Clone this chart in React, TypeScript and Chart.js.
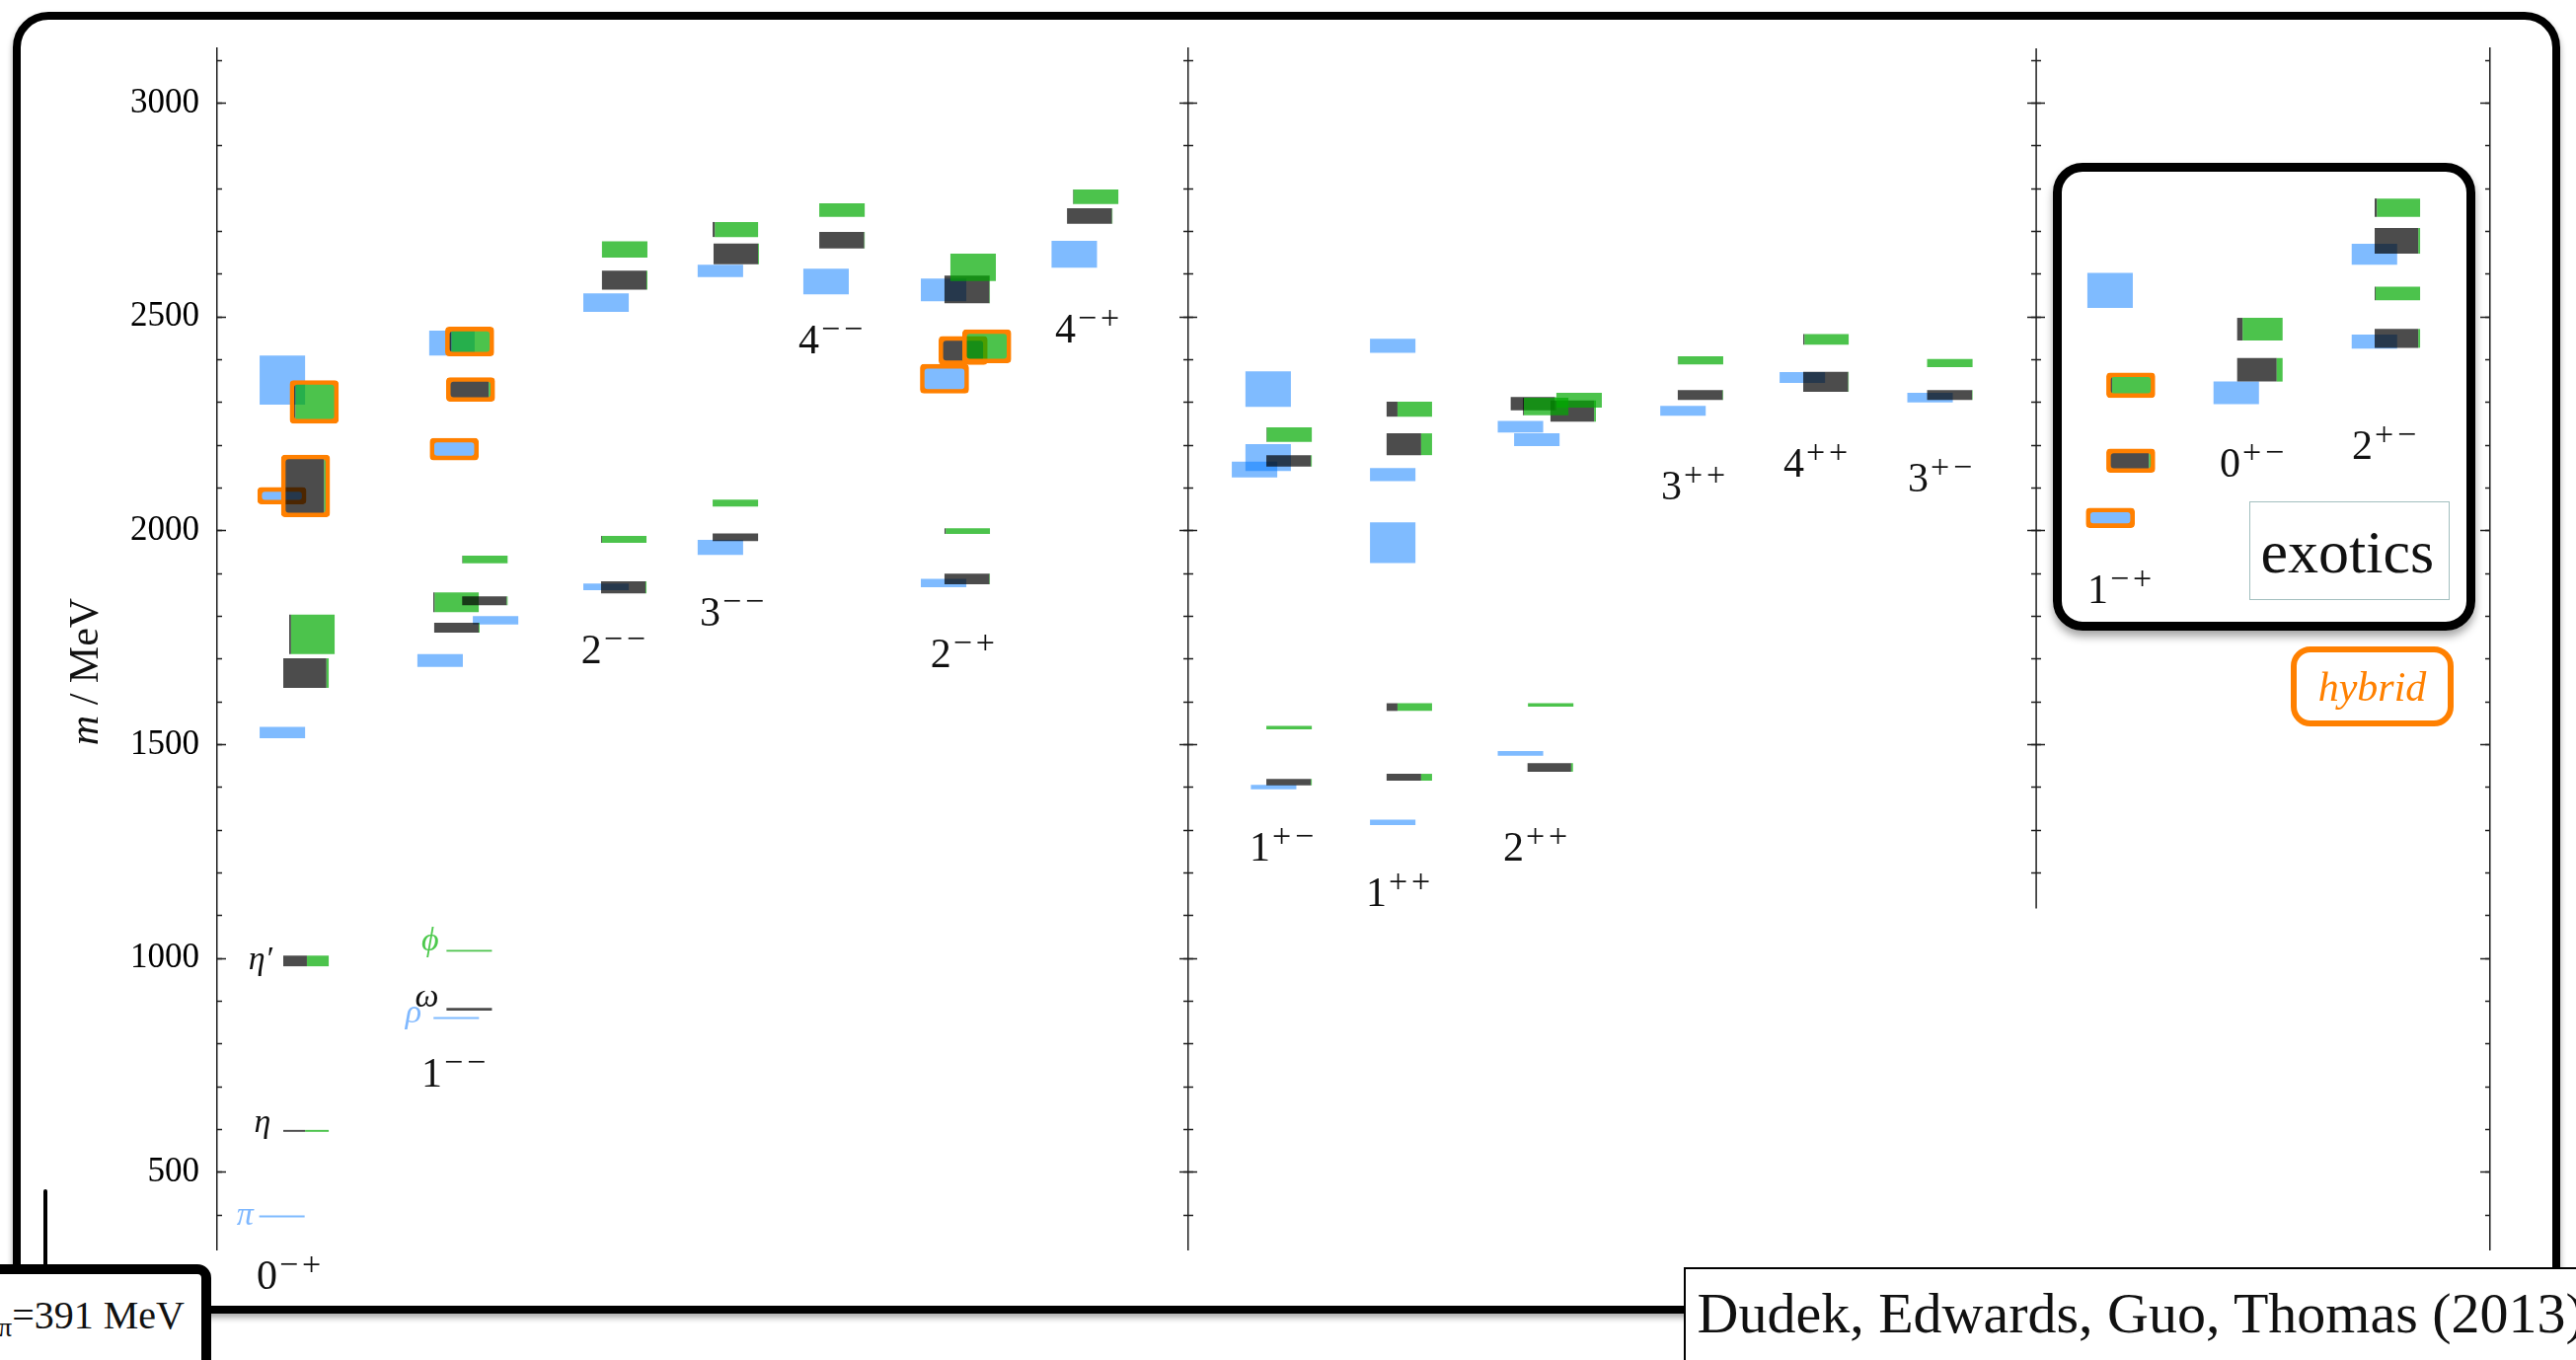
import React, { useEffect, useRef } from 'react';
import { Chart, BarController, registerables } from 'chart.js';

Chart.register(...registerables);

// ---------------- data ----------------
const Y_MIN = 320;
const Y_MAX = 3128;
const majorTicks = [500, 1000, 1500, 2000, 2500, 3000];
const minorTicks = [400, 500, 600, 700, 800, 900, 1000, 1100, 1200, 1300, 1400, 1500, 1600, 1700, 1800, 1900, 2000, 2100, 2200, 2300, 2400, 2500, 2600, 2700, 2800, 2900, 3000, 3100];

// J^PC column labels (spin, P C superscript), label anchor (x units, MeV baseline)
const jpcJ = ['0', '1', '2', '3', '4', '2', '4', '1', '1', '2', '3', '4', '3', '1', '0', '2'];
const jpcPC = ['−+', '−−', '−−', '−−', '−−', '−+', '−+', '+−', '++', '++', '++', '++', '+−', '−+', '+−', '+−'];
const jpcLabelX = [1.74, 8.99, 16.01, 21.23, 25.58, 31.38, 36.87, 45.42, 50.54, 56.58, 63.53, 68.91, 74.38, 82.28, 88.1, 93.92];
const jpcLabelM = [228, 700, 1691, 1778, 2415, 1681, 2440, 1228, 1124, 1229, 2073, 2126, 2091, 1832, 2126, 2168];

// named ground states
const particleNames = ['π', 'η', 'η′', 'ρ', 'ω', 'ϕ'];
const particleKind = ['isovector', 'isoscalar', 'isoscalar', 'isovector', 'isoscalar', 'strange'];
const particleX = [1.6, 2.36, 2.43, 8.99, 9.75, 9.75];
const particleM = [377, 594, 975, 850, 887, 1018];

// Isovector (I=1) states: x position, mass band low / high (MeV), hybrid flag
const ivX = [2.85, 2.87, 2.85, 2.87, 10.52, 9.81, 12.25, 10.43, 10.33, 17.11, 17.11, 22.14, 22.14, 26.79, 31.96, 32.0, 31.96, 37.71, 46.48, 45.64, 46.24, 46.24, 51.72, 51.72, 51.72, 51.72, 57.34, 58.06, 57.34, 64.49, 69.74, 75.36, 83.29, 83.28, 88.83, 94.91, 94.91];
const ivLo = [395, 1515, 2066, 2295, 859, 1682, 1781, 2169, 2410, 1861, 2512, 1944, 2593, 2553, 1868, 2325, 2537, 2615, 1396, 2125, 2140, 2290, 1312, 1925, 2116, 2416, 1474, 2198, 2230, 2269, 2346, 2300, 2011, 2521, 2296, 2426, 2622];
const ivHi = [399.5, 1542, 2098, 2410, 863.5, 1712, 1801, 2213, 2468, 1877, 2555, 1979, 2622, 2613, 1888, 2386, 2590, 2678, 1406, 2162, 2203, 2373, 1325, 2020, 2147, 2449, 1485, 2228, 2257, 2292, 2371, 2323, 2050, 2603, 2349, 2459, 2671];
const ivHybrid = [0, 0, 1, 0, 0, 0, 0, 1, 0, 0, 0, 0, 0, 0, 0, 1, 0, 0, 0, 0, 0, 0, 0, 0, 0, 0, 0, 0, 0, 0, 0, 0, 1, 0, 0, 0, 0];

// Isoscalar (I=0) states: x position, mass band, light-quark fraction, hybrid flag (draw order)
const isX = [3.91, 3.91, 3.91, 4.17, 3.89, 4.27, 11.09, 11.09, 10.55, 10.51, 11.78, 11.78, 11.15, 11.11, 17.89, 17.89, 17.93, 17.93, 22.8, 22.8, 22.84, 22.8, 27.49, 27.49, 33.0, 33.0, 32.82, 33.86, 33.0, 33.26, 38.39, 38.65, 47.16, 47.16, 47.16, 47.16, 52.45, 52.45, 52.45, 52.45, 58.65, 58.67, 57.91, 59.66, 58.45, 59.92, 65.26, 65.26, 70.78, 70.78, 76.23, 76.23, 84.19, 84.19, 89.87, 89.87, 95.92, 95.92, 95.92, 95.92];
const isLo = [595, 982, 1633, 1712, 2036, 2255, 878.5, 1016, 1762, 1810, 1826, 1924, 2306, 2412, 1854, 1972, 2564, 2639, 1976, 2057, 2623, 2687, 2660, 2734, 1875, 1993, 2392, 2396, 2532, 2584, 2718, 2764, 1405, 1536, 2150, 2208, 1416, 1579, 2177, 2267, 1437, 1589, 2282, 2255, 2270, 2288, 2306, 2389, 2325, 2435, 2306, 2383, 2140, 2315, 2349, 2445, 2428, 2539, 2648, 2734];
const isHi = [599.5, 1007, 1702, 1804, 2174, 2348, 885, 1020, 1785, 1856, 1847, 1942, 2355, 2473, 1882, 1988, 2608, 2677, 1994, 2073, 2672, 2722, 2699, 2766, 1900, 2006, 2451, 2467, 2597, 2648, 2754, 2798, 1420, 1544, 2177, 2242, 1432, 1597, 2228, 2302, 1457, 1597, 2313, 2305, 2311, 2323, 2329, 2408, 2372, 2460, 2329, 2402, 2188, 2366, 2404, 2498, 2472, 2571, 2708, 2777];
const isLight = [0.48, 0.52, 0.95, 0.04, 0.91, 0.09, 1, 0, 0.98, 0.03, 0.98, 0.01, 0.9, 0.1, 0.98, 0.02, 0.98, 0, 1, 0, 0.98, 0.05, 0.99, 0, 0.99, 0.03, 0.97, 0.05, 0.99, 0, 0.99, 0.01, 0.98, 0, 0.98, 0.01, 0.76, 0.24, 0.76, 0.24, 0.96, 0, 0.97, 0.96, 0.02, 0, 0.99, 0.01, 0.99, 0.03, 0.99, 0, 0.9, 0.09, 0.87, 0.12, 0.96, 0.02, 0.96, 0.05];
const isHybrid = [0, 0, 0, 0, 1, 1, 0, 0, 0, 0, 0, 0, 1, 1, 0, 0, 0, 0, 0, 0, 0, 0, 0, 0, 0, 0, 1, 1, 0, 0, 0, 0, 0, 0, 0, 0, 0, 0, 0, 0, 0, 0, 0, 0, 0, 0, 0, 0, 0, 0, 0, 0, 1, 1, 0, 0, 0, 0, 0, 0];

// panel separators (x units) and where the second one stops (MeV)
const SEP1 = 42.73;
const SEP2 = 80.03;
const SEP2_BOTTOM = 1117;

// ---------------- styles ----------------
const BOX_W = 2;
const PXU = 23.03; // pixels per x unit
const BLUE = 'rgba(0,119,255,0.5)';
const DARK = 'rgba(0,0,0,0.7)';
const GREEN = 'rgba(0,170,0,0.7)';
const ORANGE = '#FF8000';
const NONE = 'rgba(0,0,0,0)';
const AXIS = '#1e1e1e';
const SERIF = '"Liberation Serif", "DejaVu Serif", serif';
const kindColor: Record<string, string> = { isovector: '#7fb8ff', isoscalar: '#111', strange: '#4cc94c' };

class SpanBarController extends (BarController as any) {
  static id = 'spanbar';
  _calculateBarIndexPixels(index: number) {
    const raw: any = (this as any).getDataset().data[index];
    const iScale = (this as any)._cachedMeta.iScale;
    const a = iScale.getPixelForValue(raw.x0);
    const b = iScale.getPixelForValue(raw.x1);
    const base = Math.min(a, b);
    const head = Math.max(a, b);
    return { base, head, center: (base + head) / 2, size: head - base };
  }
}
Chart.register(SpanBarController as any);

type Acc = { data: any[]; bg: string[]; bc: string[]; bw: number[]; inf: number[]; rad: number[] };
const newAcc = (): Acc => ({ data: [], bg: [], bc: [], bw: [], inf: [], rad: [] });
function pushFill(a: Acc, x0: number, x1: number, lo: number, hi: number, color: string) {
  a.data.push({ x: (x0 + x1) / 2, x0, x1, y: [lo, hi] });
  a.bg.push(color); a.bc.push(NONE); a.bw.push(0); a.inf.push(0); a.rad.push(0);
}
function pushOutline(a: Acc, x0: number, x1: number, lo: number, hi: number) {
  a.data.push({ x: (x0 + x1) / 2, x0, x1, y: [lo, hi] });
  a.bg.push(NONE); a.bc.push(ORANGE); a.bw.push(1); a.inf.push(1.8); a.rad.push(4);
}

function buildIsovector(): Acc {
  const a = newAcc();
  ivX.forEach((xc, i) => {
    const x0 = xc - BOX_W / 2, x1 = xc + BOX_W / 2;
    pushFill(a, x0, x1, ivLo[i], ivHi[i], BLUE);
    if (ivHybrid[i]) pushOutline(a, x0, x1, ivLo[i], ivHi[i]);
  });
  return a;
}
function buildIsoscalar(): Acc {
  const a = newAcc();
  isX.forEach((xc, i) => {
    const x0 = xc - BOX_W / 2, x1 = xc + BOX_W / 2;
    const xs = x0 + BOX_W * isLight[i];
    if (isLight[i] > 0) pushFill(a, x0, xs, isLo[i], isHi[i], DARK);
    if (isLight[i] < 1) pushFill(a, xs, x1, isLo[i], isHi[i], GREEN);
    if (isHybrid[i]) pushOutline(a, x0, x1, isLo[i], isHi[i]);
  });
  return a;
}

const tickScale = (xPos: number, values: number[], len: number, from = Y_MIN, withBorder = false) => ({
  type: 'linear', min: Y_MIN, max: Y_MAX, bounds: 'data', position: { x: xPos },
  afterBuildTicks: (s: any) => { s.ticks = values.filter((v) => v >= from).map((v) => ({ value: v })); },
  border: { display: withBorder, color: AXIS, width: 1.5 },
  grid: { drawOnChartArea: false, drawTicks: true, tickLength: len, tickWidth: 1.5, tickColor: AXIS },
  ticks: { display: false },
});

const labelPlugin = {
  id: 'spectrumText',
  afterDatasetsDraw(chart: any) {
    const { ctx, chartArea } = chart;
    const xs = chart.scales.x;
    const ys = chart.scales.y;
    ctx.save();
    ctx.textBaseline = 'alphabetic';
    jpcJ.forEach((j, i) => {
      const px = xs.getPixelForValue(jpcLabelX[i]);
      const py = ys.getPixelForValue(jpcLabelM[i]);
      ctx.fillStyle = '#111';
      ctx.textAlign = 'left';
      ctx.font = `42px ${SERIF}`;
      ctx.fillText(j, px, py);
      const w = ctx.measureText(j).width;
      ctx.font = `34px ${SERIF}`;
      Array.from(jpcPC[i]).forEach((ch, k) => ctx.fillText(ch, px + w + 2 + k * 23, py - 14));
    });
    particleNames.forEach((n, i) => {
      ctx.font = `italic 34px ${SERIF}`;
      ctx.fillStyle = kindColor[particleKind[i]];
      ctx.textAlign = 'right';
      ctx.fillText(n, xs.getPixelForValue(particleX[i]), ys.getPixelForValue(particleM[i]));
    });
    ctx.translate(chartArea.left - 121, (chartArea.top + chartArea.bottom) / 2 + 23);
    ctx.rotate(-Math.PI / 2);
    ctx.fillStyle = '#111';
    ctx.textAlign = 'left';
    ctx.font = `italic 42px ${SERIF}`;
    const mW = ctx.measureText('m').width;
    ctx.font = `42px ${SERIF}`;
    const rest = ' / MeV';
    const rW = ctx.measureText(rest).width;
    const start = -(mW + rW) / 2;
    ctx.font = `italic 42px ${SERIF}`;
    ctx.fillText('m', start, 0);
    ctx.font = `42px ${SERIF}`;
    ctx.fillText(rest, start + mW, 0);
    ctx.restore();
  },
};

export default function App() {
  const ref = useRef<HTMLCanvasElement | null>(null);
  useEffect(() => {
    if (!ref.current) return;
    const iso = buildIsoscalar();
    const ivs = buildIsovector();
    const chart = new Chart(ref.current, {
      type: 'spanbar' as any,
      data: {
        datasets: [
          {
            label: 'isoscalar', data: iso.data, backgroundColor: iso.bg, borderColor: iso.bc,
            borderWidth: iso.bw, inflateAmount: iso.inf, borderRadius: iso.rad, borderSkipped: false, order: 0,
          } as any,
          {
            label: 'isovector', data: ivs.data, backgroundColor: ivs.bg, borderColor: ivs.bc,
            borderWidth: ivs.bw, inflateAmount: ivs.inf, borderRadius: ivs.rad, borderSkipped: false, order: 1,
          } as any,
          {
            type: 'line', label: 'separator', data: [{ x: SEP2, y: SEP2_BOTTOM }, { x: SEP2, y: Y_MAX }],
            borderColor: AXIS, borderWidth: 1.5, pointRadius: 0, order: 3,
          } as any,
        ],
      },
      options: {
        responsive: false,
        devicePixelRatio: 1,
        animation: false,
        events: [],
        layout: { padding: { left: 100, right: 87, top: 49, bottom: 112 } },
        plugins: { legend: { display: false }, tooltip: { enabled: false } },
        scales: {
          x: { type: 'linear', min: 0, max: 100, display: false, offset: false },
          y: {
            type: 'linear', position: 'left', min: Y_MIN, max: Y_MAX, bounds: 'data',
            afterFit: (s: any) => { s.width = 120; },
            afterBuildTicks: (s: any) => { s.ticks = majorTicks.map((v) => ({ value: v })); },
            border: { display: true, color: AXIS, width: 1.5 },
            grid: { drawOnChartArea: false, drawTicks: false },
            ticks: {
              padding: 18, color: '#000', font: { family: 'Liberation Serif', size: 35 },
              callback: (v: any) => String(v), autoSkip: false,
            },
          },
          yLmaj: tickScale(0, majorTicks, -9),
          yLmin: tickScale(0, minorTicks, -5),
          yS1: {
            type: 'linear', min: Y_MIN, max: Y_MAX, bounds: 'data', position: { x: SEP1 },
            border: { display: true, color: AXIS, width: 1.5 },
            grid: { drawOnChartArea: false, drawTicks: false }, ticks: { display: false },
          },
          yS1maj: tickScale(SEP1 - 9 / PXU, majorTicks, -18),
          yS1min: tickScale(SEP1 - 5 / PXU, minorTicks, -10),
          yS2maj: tickScale(SEP2 - 9 / PXU, majorTicks, -18, 1150),
          yS2min: tickScale(SEP2 - 5 / PXU, minorTicks, -10, 1150),
          yR: tickScale(100, majorTicks, 9, Y_MIN, true),
          yRmin: tickScale(100, minorTicks, 5),
        } as any,
      },
      plugins: [labelPlugin],
    } as any);
    return () => chart.destroy();
  }, []);

  const abs = (s: React.CSSProperties): React.CSSProperties => ({ position: 'absolute', boxSizing: 'border-box', ...s });
  return (
    <div style={{ position: 'fixed', left: 0, top: 0, width: 2610, height: 1378, overflow: 'hidden', background: '#fff', fontFamily: SERIF }}>
      <div style={abs({ left: 13, top: 12, width: 2581, height: 1319, border: '8px solid #000', borderRadius: 36, boxShadow: '0 4px 6px rgba(0,0,0,0.35)' })} />
      <canvas ref={ref} width={2610} height={1378} style={{ position: 'absolute', left: 0, top: 0, width: 2610, height: 1378 }} />
      <div style={abs({ left: 2080, top: 165, width: 428, height: 474, border: '9px solid #000', borderRadius: 30, boxShadow: '0 6px 8px rgba(0,0,0,0.35)' })} />
      <div style={abs({ left: 2279, top: 508, width: 203, height: 100, border: '1.5px solid #a3bfbf', background: '#fff' })}>
        <span style={{ position: 'absolute', left: 10.5, top: 18.5, fontSize: 62, lineHeight: '62px', whiteSpace: 'nowrap', color: '#111' }}>exotics</span>
      </div>
      <div style={abs({ left: 2321, top: 655, width: 165, height: 81, border: `6px solid ${ORANGE}`, borderRadius: 20, background: '#fff' })}>
        <span style={{ position: 'absolute', left: 0, right: 0, top: 13.8, textAlign: 'center', fontStyle: 'italic', fontSize: 42, lineHeight: '42px', color: ORANGE }}>hybrid</span>
      </div>
      <div style={abs({ left: 44, top: 1205, width: 4, height: 82, background: '#000', borderRadius: 2 })} />
      <div style={abs({ left: -40, top: 1281, width: 254, height: 150, border: '10px solid #000', borderRadius: 14, background: '#fff' })}>
        <span style={{ position: 'absolute', right: 17, top: 21.5, fontSize: 40, lineHeight: '40px', whiteSpace: 'nowrap', color: '#111' }}>
          <i>m</i><span style={{ fontSize: 28, position: 'relative', top: 8 }}>π</span>=391 MeV
        </span>
      </div>
      <div style={abs({ left: 1706, top: 1284, width: 1000, height: 200, border: '2.5px solid #000', background: '#fff' })}>
        <span style={{ position: 'absolute', left: 11.5, top: 16.3, fontSize: 58, lineHeight: '58px', whiteSpace: 'nowrap', color: '#111' }}>Dudek, Edwards, Guo, Thomas (2013)</span>
      </div>
    </div>
  );
}
